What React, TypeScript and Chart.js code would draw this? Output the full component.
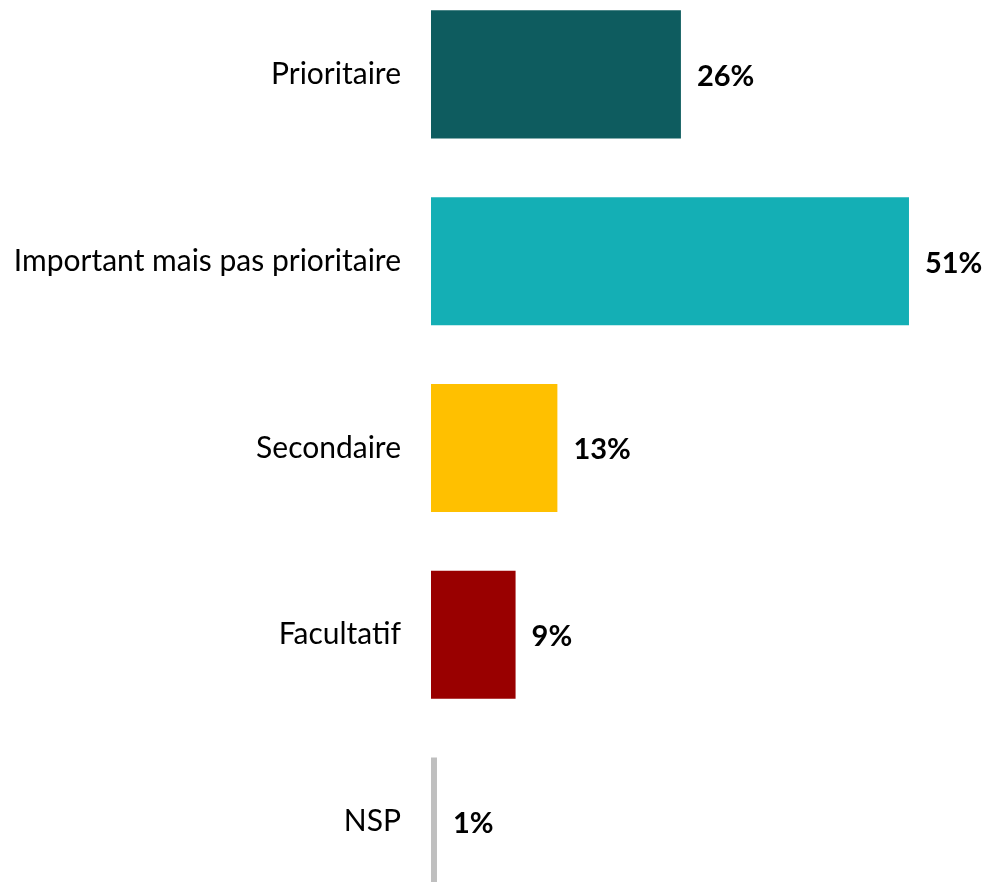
import React, { useEffect, useRef } from "react";
import { Chart, registerables } from "chart.js";

Chart.register(...registerables);

const categories = ["Prioritaire", "Important mais pas prioritaire", "Secondaire", "Facultatif", "NSP"];
const values = [26.3, 50.3, 13.3, 8.9, 0.63];
const valueLabels = ["26%", "51%", "13%", "9%", "1%"];
const barColors = ["#0E5C5F", "#14AFB5", "#FFC000", "#990000", "#BFBFBF"];

const FONT = "Lato, 'Open Sans', sans-serif";

const labelsPlugin = {
  id: "customLabels",
  afterDatasetsDraw(chart: any) {
    const ctx = chart.ctx;
    const meta = chart.getDatasetMeta(0);
    ctx.save();
    meta.data.forEach((bar: any, i: number) => {
      const y = bar.y;
      ctx.fillStyle = "#000000";
      ctx.font = `400 30px ${FONT}`;
      ctx.textAlign = "right";
      ctx.textBaseline = "middle";
      ctx.fillText(categories[i], 401, y);
      ctx.font = `700 29px ${FONT}`;
      ctx.textAlign = "left";
      ctx.fillText(valueLabels[i], bar.x + 16, y + 2);
    });
    ctx.restore();
  },
};

export default function App() {
  const ref = useRef<HTMLCanvasElement>(null);
  useEffect(() => {
    const chart = new Chart(ref.current!, {
      type: "bar",
      data: {
        labels: categories,
        datasets: [
          {
            data: values,
            backgroundColor: barColors,
            borderWidth: 0,
            barPercentage: 0.686,
            categoryPercentage: 1,
          },
        ],
      },
      options: {
        indexAxis: "y",
        responsive: false,
        animation: false,
        layout: { padding: { left: 431, right: 0, top: 0, bottom: 0 } },
        plugins: { legend: { display: false }, tooltip: { enabled: false } },
        scales: {
          x: { display: false, min: 0, max: 58.3, grid: { display: false } },
          y: { display: false, grid: { display: false } },
        },
      },
      plugins: [labelsPlugin],
    });
    return () => chart.destroy();
  }, []);
  return (
    <div style={{ position: "fixed", left: 0, top: 0, width: 985, height: 882, overflow: "hidden", background: "#fff" }}>
      <canvas ref={ref} width={985} height={934} style={{ position: "absolute", left: 0, top: -19 }} />
    </div>
  );
}
